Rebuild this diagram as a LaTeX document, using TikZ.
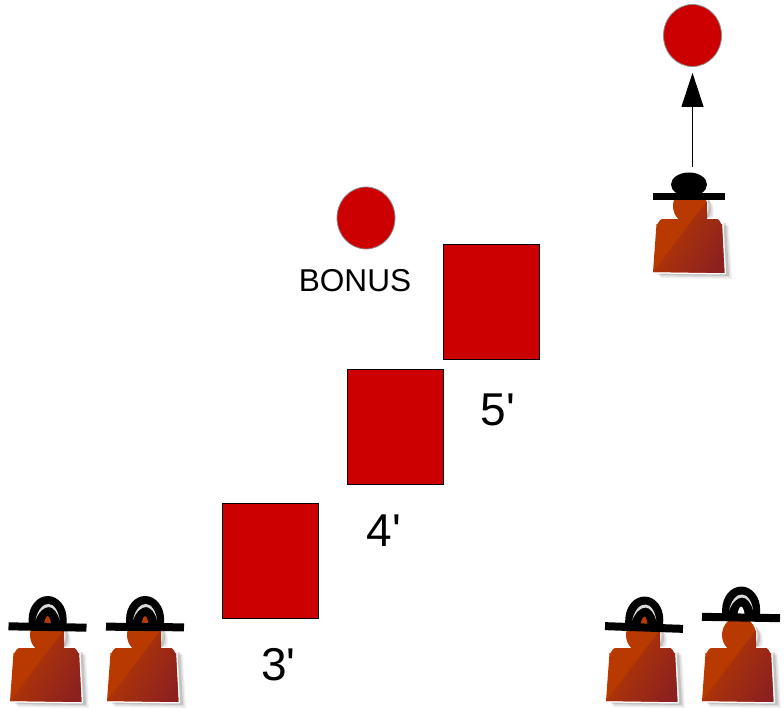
\documentclass[tikz,border=0pt]{standalone}
\usepackage{fontspec}
\setmainfont{Liberation Sans}
\newfontfamily\labfont{Liberation Sans}
\usepackage{xcolor}
\usetikzlibrary{arrows.meta,shapes.geometric}
\definecolor{boxred}{HTML}{CC0000}
\definecolor{bodyorange}{HTML}{B83A00}
\definecolor{bodydark}{HTML}{8B2020}
\definecolor{crescent}{HTML}{D8D8D8}
\tikzset{
  block/.style={draw=black, line width=0.5pt, fill=boxred, inner sep=0pt, minimum width=96pt, minimum height=115pt},
  ball/.style={ellipse, draw=black!45, line width=0.8pt, fill=boxred, inner sep=0pt, minimum width=58pt, minimum height=62pt},
  lab/.style={text=black, font=\labfont\fontsize{46}{46}\selectfont, inner sep=0pt},
  labs/.style={text=black, font=\labfont\fontsize{31.6}{32}\selectfont, inner sep=0pt},
  pointer/.style={draw=black, line width=1pt, -{Triangle[length=34pt,width=22pt]}, shorten >=6pt},
  pics/figure/.style={code={
    % soft shadow first
    \foreach \s/\o in {6/0.06,4.5/0.08,3/0.12}{
      \fill[black, opacity=\o, shift={(\s pt,-\s pt)}] (-35,66) -- (-32,14) -- (33,14) -- (36,67) -- cycle;
      \fill[black, opacity=\o, shift={(\s pt,-\s pt)}] (0,0) ellipse (18 and 18);
    }
    \path[draw=white, line width=3pt, line join=round] (0,0) ellipse (17 and 18);
    \path[draw=white, line width=3pt, line join=round] (-37,66) -- (-33.5,18) to[out=-80,in=180] (-28,13) -- (27,13) to[out=0,in=-100] (32,18) -- (34.5,67) -- cycle;
    \fill[bodyorange] (0,0) ellipse (17 and 18);
    \fill[bodyorange] (-37,66) -- (-33.5,18) to[out=-80,in=180] (-28,13) -- (27,13) to[out=0,in=-100] (32,18) -- (34.5,67) -- cycle;
    \begin{scope}
      \clip (-37,66) -- (-33.5,18) to[out=-80,in=180] (-28,13) -- (27,13) to[out=0,in=-100] (32,18) -- (34.5,67) -- cycle
        (-17,-18) rectangle (17,13);
      \shade[left color=bodyorange, middle color=bodyorange!86!bodydark, right color=bodydark, shading angle=60] (-37,66) -- (17,-5) -- (40,-5) -- (40,70) -- (-37,70) -- cycle;
    \end{scope}
  }},
  pics/hatback/.style={code={
    \fill[black] (-19,2) -- (-19,-8) arc[x radius=19, y radius=23, start angle=180, end angle=360] -- (19,2) -- cycle;
    \fill[crescent] (-12,-7) .. controls (-10,-18) and (-4,-23.5) .. (1,-23) .. controls (6,-23) and (11,-16) .. (12,-7) .. controls (10,-15) and (5,-20) .. (1,-20) .. controls (-4,-20) and (-9,-15) .. (-12,-7) -- cycle;
    \fill[#1] (-4,1) .. controls (-4,-4) and (-2,-11) .. (0,-11) .. controls (2,-11) and (4,-4) .. (4,1) -- cycle;
    \fill[black] (-39,-4) rectangle (39,4);
  }},
  pics/hatfront/.style={code={
    \fill[black] (0,-12) ellipse (18 and 12);
    \fill[black] (-36.5,-3.5) rectangle (35.5,3.5);
  }},
}
\begin{document}
\begin{tikzpicture}[x=1pt,y=-1pt]
  \useasboundingbox (0,0) rectangle (784,709);

  % people along the bottom
  \foreach \x/\y in {47/635,144/635,643/635,739/635,690/206}{
    \pic at (\x,\y) {figure};
  }
  \pic[rotate=-1] at (47.5,627) {hatback=bodyorange};
  \pic[rotate=-0.5] at (145,627) {hatback=bodyorange};
  \pic[rotate=-2] at (644,627.5) {hatback=bodyorange};
  \pic[rotate=-1] at (741,617.5) {hatback=white};
  \pic at (689,196.5) {hatfront};

  \node[block] (block3) at (270,561) {};
  \node[block] (block4) at (395,426.5) {};
  \node[block] (block5) at (491,301.5) {};

  \node[lab] (lab3) at (278.5,665) {3'};
  \node[lab] (lab4) at (384,531) {4'};
  \node[lab] (lab5) at (498,410) {5'};

  \node[ball] (bonus) at (366,218) {};
  \node[labs] (bonuslab) at (355,281) {BONUS};

  \node[ball] (goal) at (692.5,35.5) {};
  \coordinate (start) at (692.5,167);
  \draw[pointer] (start) -- (goal.south);
\end{tikzpicture}
\end{document}
